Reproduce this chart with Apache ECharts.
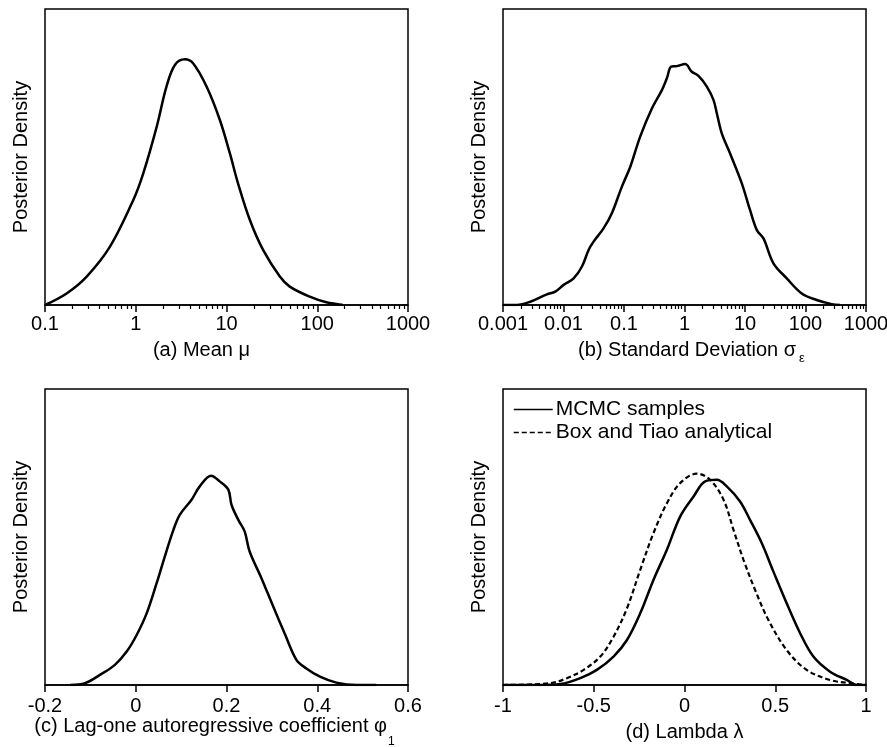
<!DOCTYPE html>
<html>
<head>
<meta charset="utf-8">
<script src="https://cdn.jsdelivr.net/npm/echarts@6/dist/echarts.min.js"></script>
<style>
html,body{margin:0;padding:0;background:#fff;}
#chart{width:887px;height:747px;}
</style>
</head>
<body>
<div id="chart"></div>
<script>
// (a) Mean mu  (log x)
var meanX = [0.1,0.173,0.288,0.52,0.94,1.21,1.70,2.18,2.70,3.48,4.30,6.03,8.45,10.9,13.4,18.1,25.3,38.7,49.8,82.6,126,192];
var meanY = [0,0.039,0.096,0.197,0.355,0.445,0.602,0.738,0.811,0.830,0.816,0.738,0.625,0.512,0.411,0.287,0.186,0.096,0.062,0.028,0.009,0];
// (b) Standard deviation sigma_eps (log x)
var sdX = [0.001,0.0017,0.00283,0.00533,0.00731,0.01005,0.0147,0.0202,0.026,0.0314,0.0459,0.063,0.0923,0.127,0.185,0.289,0.423,0.511,0.602,0.747,1.025,1.32,1.70,2.34,3.01,3.42,4.13,5.67,8.85,12.1,15.7,20.2,29.5,49.0,86.7,153,271,372];
var sdY = [0,0,0.011,0.036,0.045,0.068,0.090,0.130,0.186,0.214,0.259,0.310,0.400,0.467,0.569,0.664,0.726,0.766,0.805,0.807,0.814,0.788,0.774,0.738,0.693,0.648,0.580,0.512,0.411,0.321,0.253,0.225,0.141,0.090,0.039,0.017,0.003,0];
// (c) Lag-one autoregressive coefficient phi_1
var phiX = [-0.145,-0.112,-0.079,-0.046,-0.020,0.002,0.024,0.046,0.064,0.083,0.097,0.123,0.141,0.166,0.185,0.204,0.211,0.226,0.240,0.251,0.277,0.303,0.328,0.354,0.376,0.406,0.442,0.486,0.53];
var phiY = [0,0.006,0.034,0.068,0.113,0.169,0.242,0.344,0.434,0.524,0.575,0.626,0.671,0.707,0.688,0.660,0.609,0.558,0.519,0.451,0.361,0.265,0.175,0.085,0.056,0.028,0.008,0,0];
// (d) Lambda - MCMC samples
var lamX = [-1,-0.794,-0.684,-0.574,-0.483,-0.391,-0.317,-0.244,-0.171,-0.097,-0.024,0.050,0.114,0.178,0.233,0.306,0.361,0.426,0.490,0.563,0.637,0.710,0.802,0.894,0.949,1.0];
var lamY = [0,0,0.003,0.023,0.051,0.096,0.152,0.242,0.355,0.457,0.569,0.637,0.688,0.693,0.671,0.620,0.558,0.479,0.383,0.276,0.175,0.096,0.045,0.017,0,0];
// (d) Lambda - Box and Tiao analytical
var btX = [-1,-0.739,-0.648,-0.556,-0.464,-0.391,-0.317,-0.244,-0.171,-0.097,-0.024,0.068,0.141,0.215,0.270,0.325,0.389,0.462,0.563,0.673,0.802,0.912,1.0];
var btY = [0,0.006,0.023,0.051,0.096,0.163,0.259,0.389,0.513,0.614,0.682,0.714,0.693,0.626,0.524,0.423,0.321,0.220,0.118,0.051,0.017,0.006,0];

var seriesNames = ['MCMC samples', 'Box and Tiao analytical'];
var yName = 'Posterior Density';
var minorMult = [2,3,4,5,6,7,8,9];
var decadesA = [0.1,1,10,100];
var decadesB = [0.001,0.01,0.1,1,10,100];

function pairs(xs, ys){ return xs.map(function(x,i){ return [x, ys[i]]; }); }
function minors(decs){
  var out = [];
  decs.forEach(function(d){ minorMult.forEach(function(m){ out.push(+(d*m).toPrecision(3)); }); });
  return out;
}

var FONT = 'Liberation Sans, Arial, Helvetica, sans-serif';
var BLACK = '#000';
var grids = [
  {left:45, top:9, width:363, height:296},
  {left:503, top:9, width:363, height:296},
  {left:45, top:389, width:363, height:296},
  {left:503, top:389, width:363, height:296}
].map(function(g){ return Object.assign({show:true, borderColor:BLACK, borderWidth:1.5, backgroundColor:'transparent', containLabel:false, outerBoundsMode:'none'}, g); });

function mainX(gi, extra){
  return Object.assign({
    gridIndex: gi,
    position: 'bottom',
    nameLocation: 'middle',
    nameGap: 35,
    nameTextStyle: {fontFamily: FONT, fontSize: 20, color: BLACK},
    axisLine: {show:true, onZero:false, lineStyle:{color:BLACK, width:1.5}},
    axisTick: {show:true, inside:false, length:7, lineStyle:{color:BLACK, width:1.5}},
    axisLabel: {show:true, margin:9, fontFamily: FONT, fontSize: 20, color: BLACK, showMinLabel:true, showMaxLabel:true, hideOverlap:false},
    splitLine: {show:false}
  }, extra);
}
function minorX(gi, min, max, vals){
  return {
    gridIndex: gi, type:'log', logBase:10, min:min, max:max, position:'bottom',
    axisLine:{show:false}, axisLabel:{show:false}, splitLine:{show:false},
    axisTick:{show:true, inside:false, length:4, customValues: vals, lineStyle:{color:BLACK, width:1.2}}
  };
}
function yAx(gi){
  return {
    gridIndex: gi, type:'value', min:0, max:1,
    name: yName, nameLocation:'middle', nameGap: 14, nameRotate: 90,
    nameTextStyle: {fontFamily: FONT, fontSize: 20, color: BLACK},
    axisLine:{show:false}, axisTick:{show:false}, axisLabel:{show:false}, splitLine:{show:false}
  };
}
function logFmt(v){ return String(+Number(v).toPrecision(3)); }

var lineBase = {type:'line', showSymbol:false, symbol:'none', smooth:0.35, clip:true,
  lineStyle:{color:BLACK, width:2.5}, itemStyle:{color:BLACK}, emphasis:{disabled:true}};

var option = {
  animation: false,
  backgroundColor: '#fff',
  textStyle: {fontFamily: FONT},
  grid: grids,
  xAxis: [
    mainX(0, {type:'log', logBase:10, min:0.1, max:1000, name:'(a) Mean μ',
      nameTextStyle:{fontFamily:FONT, fontSize:20, color:BLACK, padding:[0,50,0,0]},
      axisLabel:{show:true, margin:9, fontFamily:FONT, fontSize:20, color:BLACK, formatter: logFmt, showMinLabel:true, showMaxLabel:true, hideOverlap:false}}),
    minorX(0, 0.1, 1000, minors(decadesA)),
    mainX(1, {type:'log', logBase:10, min:0.001, max:1000, name:'(b) Standard Deviation σ{s|ε}',
      nameGap: 31,
      nameTextStyle:{fontFamily:FONT, fontSize:20, color:BLACK, padding:[0,0,0,14],
        rich:{s:{fontFamily:FONT, fontSize:13, color:BLACK, padding:[16,0,0,3]}}},
      axisLabel:{show:true, margin:9, fontFamily:FONT, fontSize:20, color:BLACK, formatter: logFmt, showMinLabel:true, showMaxLabel:true, hideOverlap:false}}),
    minorX(1, 0.001, 1000, minors(decadesB)),
    mainX(2, {type:'value', min:-0.2, max:0.6, interval:0.2, name:'(c) Lag-one autoregressive coefficient φ{s|1}',
      nameGap: 20,
      nameTextStyle:{fontFamily:FONT, fontSize:20, color:BLACK, padding:[0,24,0,0],
        rich:{s:{fontFamily:FONT, fontSize:12, color:BLACK, padding:[30,0,0,1]}}},
      axisLabel:{show:true, margin:11, fontFamily:FONT, fontSize:20, color:BLACK, showMinLabel:true, showMaxLabel:true, hideOverlap:false}}),
    mainX(3, {type:'value', min:-1, max:1, interval:0.5, name:'(d) Lambda λ',
      nameGap: 37,
      axisLabel:{show:true, margin:11, fontFamily:FONT, fontSize:20, color:BLACK, showMinLabel:true, showMaxLabel:true, hideOverlap:false}})
  ],
  yAxis: [yAx(0), yAx(1), yAx(2), yAx(3)],
  legend: {
    data: seriesNames,
    orient: 'vertical',
    left: 513, top: 399,
    padding: 0,
    itemWidth: 39, itemHeight: 12, itemGap: 2,
    lineStyle: {width: 1.5},
    itemStyle: {color:'rgba(0,0,0,0)', borderColor:'rgba(0,0,0,0)', borderWidth:0, opacity:0},
    textStyle: {fontFamily: FONT, fontSize: 21, color: BLACK, padding:[0,0,0,-2]},
    selectedMode: false
  },
  series: [
    Object.assign({}, lineBase, {name:'mean', xAxisIndex:0, yAxisIndex:0, data: pairs(meanX, meanY)}),
    Object.assign({}, lineBase, {name:'sd', xAxisIndex:2, yAxisIndex:1, data: pairs(sdX, sdY)}),
    Object.assign({}, lineBase, {name:'phi', xAxisIndex:4, yAxisIndex:2, data: pairs(phiX, phiY)}),
    Object.assign({}, lineBase, {name:seriesNames[1], xAxisIndex:5, yAxisIndex:3, data: pairs(btX, btY),
      lineStyle:{color:BLACK, width:2.2, type:[5,3]}}),
    Object.assign({}, lineBase, {name:seriesNames[0], xAxisIndex:5, yAxisIndex:3, data: pairs(lamX, lamY)})
  ]
};

var chart = echarts.init(document.getElementById('chart'), null, {renderer:'canvas'});
chart.setOption(option);
</script>
</body>
</html>
